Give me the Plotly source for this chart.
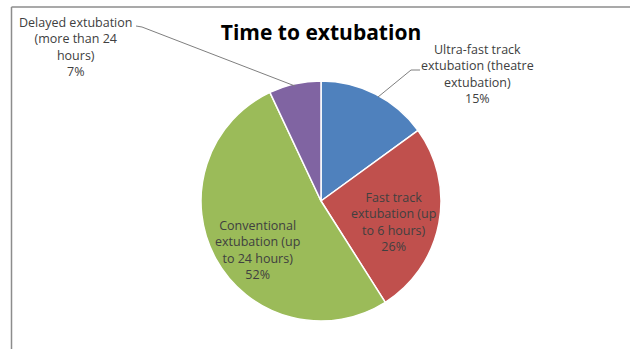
import plotly.graph_objects as go

categories = ["Ultra-fast track<br>extubation (theatre<br>extubation)",
              "Fast track<br>extubation (up<br>to 6 hours)",
              "Conventional<br>extubation (up<br>to 24 hours)",
              "Delayed extubation<br>(more than 24<br>hours)"]
values = [15, 26, 52, 7]
colors = ["#4F81BD", "#C0504D", "#9BBB59", "#8064A2"]

W, H = 630, 349
fig = go.Figure()
fig.add_trace(go.Pie(
    values=values, labels=categories, sort=False, direction="clockwise", rotation=0,
    marker=dict(colors=colors, line=dict(color="white", width=1.5)),
    textinfo="none", hoverinfo="label+percent", showlegend=False,
    domain=dict(x=[201/W, 441/W], y=[28/H, 268/H]),
))

# label positions (pixel coords from top-left)
label_pos = [(477, 74), (393, 222), (257, 250), (75, 47)]
for cat, v, (px, py) in zip(categories, values, label_pos):
    fig.add_annotation(x=px/W, y=1-py/H, xref="paper", yref="paper",
                       text=f"{cat}<br>{v}%", showarrow=False,
                       font=dict(family="Open Sans, Liberation Sans", size=12.5, color="#404040"),
                       align="center", xanchor="center", yanchor="middle")

def pline(pts):
    path = "M " + " L ".join(f"{x/W},{1-y/H}" for x, y in pts)
    fig.add_shape(type="path", path=path, xref="paper", yref="paper",
                  line=dict(color="#7f7f7f", width=1))

pline([(420, 70), (411, 70), (378, 97)])
pline([(136, 26), (142, 27), (295, 86)])

# chart border lines (top and left)
fig.add_shape(type="line", xref="paper", yref="paper", x0=11.5/W, x1=1, y0=1-7/H, y1=1-7/H,
              line=dict(color="#8c8c8c", width=1.5))
fig.add_shape(type="line", xref="paper", yref="paper", x0=11.5/W, x1=11.5/W, y0=1-7/H, y1=0,
              line=dict(color="#8c8c8c", width=1.5))

fig.update_layout(
    width=W, height=H, margin=dict(l=0, r=0, t=0, b=0),
    paper_bgcolor="white", plot_bgcolor="white",
    title=dict(text="<b>Time to extubation</b>", x=321/W, xanchor="center",
               y=1-33/H, yanchor="middle",
               font=dict(family="Open Sans, Liberation Sans", size=21, color="black")),
)
fig.write_html("out.html")
